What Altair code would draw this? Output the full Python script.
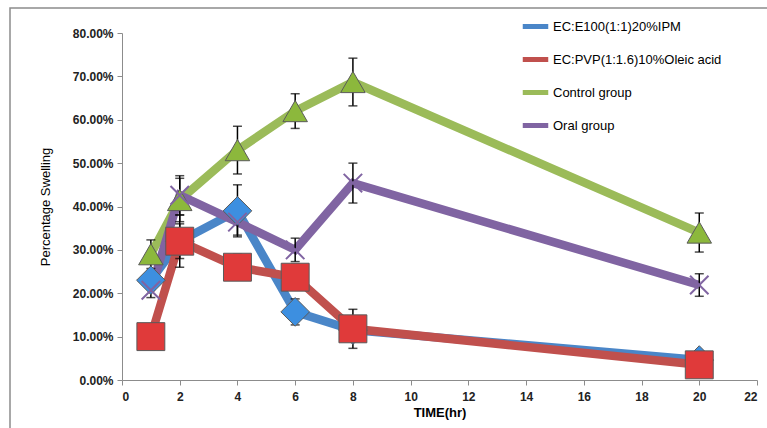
import altair as alt
import pandas as pd

times = [1, 2, 4, 6, 8, 20]
series_names = ["EC:E100(1:1)20%IPM", "EC:PVP(1:1.6)10%Oleic acid", "Control group", "Oral group"]
ec_e100 = [0.23, 0.32, 0.39, 0.157, 0.115, 0.046]
ec_e100_err = [0.02, 0.04, 0.06, 0.03, 0.02, 0.02]
ec_pvp = [0.10, 0.32, 0.26, 0.237, 0.118, 0.035]
ec_pvp_err = [0.02, 0.06, 0.03, 0.03, 0.045, 0.02]
control = [0.29, 0.415, 0.53, 0.62, 0.687, 0.34]
control_err = [0.033, 0.05, 0.055, 0.04, 0.055, 0.045]
oral = [0.207, 0.426, 0.364, 0.30, 0.454, 0.219]
oral_err = [0.017, 0.045, 0.03, 0.027, 0.046, 0.026]

line_colors = ["#4a86c8", "#c0504d", "#9bbb59", "#8064a2"]
fill_colors = ["#3d8fe0", "#e03a3a", "#8cb83c", "#8064a2"]
shapes = ["diamond", "square", "triangle-up", "M-1,-1L1,1M1,-1L-1,1"]

rows = []
for name, vals, errs in zip(series_names, [ec_e100, ec_pvp, control, oral],
                            [ec_e100_err, ec_pvp_err, control_err, oral_err]):
    for t, v, e in zip(times, vals, errs):
        rows.append({"series": name, "time": t, "value": v, "lo": v - e, "hi": v + e})
df = pd.DataFrame(rows)

xscale = alt.Scale(domain=[0, 22], nice=False)
yscale = alt.Scale(domain=[0, 0.8], nice=False)
color_scale = alt.Scale(domain=series_names, range=line_colors)

xenc = alt.X("time:Q", scale=xscale,
             axis=alt.Axis(title="TIME(hr)", values=list(range(0, 23, 2)), grid=False,
                           format="d"))
yenc = alt.Y("value:Q", scale=yscale,
             axis=alt.Axis(title="Percentage Swelling", values=[i / 10 for i in range(9)],
                           format=".2%", grid=False))

base = alt.Chart(df)

layers = []
# frame
frame = alt.Chart(pd.DataFrame({"a": [0]})).mark_rect(
    fill=None, stroke="#8c8c8c", strokeWidth=1.5, clip=False
).encode(x=alt.value(-112), x2=alt.value(700), y=alt.value(-25), y2=alt.value(420))
layers.append(frame)

for i, name in enumerate(series_names):
    sub = base.transform_filter(alt.datum.series == name)
    line = sub.mark_line(strokeWidth=8.5).encode(
        x=xenc, y=yenc,
        color=alt.Color("series:N", scale=color_scale,
                        legend=alt.Legend(title=None, orient="none", legendX=398, legendY=-22,
                                          symbolType="stroke", symbolSize=650,
                                          symbolStrokeWidth=5, labelFont="Liberation Sans",
                                          labelFontSize=13, labelColor="#000",
                                          labelOffset=2,
                                          rowPadding=7, labelLimit=300))
    )
    layers.append(line)

for i, name in enumerate(series_names):
    sub = base.transform_filter(alt.datum.series == name)
    rule = sub.mark_rule(color="black", strokeWidth=1.5).encode(
        x="time:Q", y="lo:Q", y2="hi:Q")
    cap_hi = sub.mark_tick(color="black", thickness=1.5, size=9, orient="horizontal").encode(
        x="time:Q", y="hi:Q")
    cap_lo = sub.mark_tick(color="black", thickness=1.5, size=9, orient="horizontal").encode(
        x="time:Q", y="lo:Q")
    layers += [rule, cap_hi, cap_lo]

for i, name in enumerate(series_names):
    sub = base.transform_filter(alt.datum.series == name)
    if i == 3:
        pts = sub.mark_point(shape=shapes[i], size=340, filled=False,
                             stroke=fill_colors[i], strokeWidth=2, opacity=1).encode(
            x="time:Q", y="value:Q")
    else:
        size = {0: 820, 1: 780, 2: 600}[i]
        pts = sub.mark_point(shape=shapes[i], size=size, filled=True, fill=fill_colors[i],
                             stroke="#5a5a5a", strokeWidth=1, opacity=1).encode(
            x="time:Q", y="value:Q")
    layers.append(pts)

chart = alt.layer(*layers).resolve_scale().properties(
    width=635, height=347,
    padding={"left": 122, "top": 33, "right": 10, "bottom": 48},
    autosize=alt.AutoSizeParams(type="none"),
    background="white",
).configure_view(stroke=None).configure_axis(
    domainColor="#8c8c8c", tickColor="#8c8c8c", tickSize=5,
    labelFont="Liberation Sans", labelFontSize=12, labelFontWeight="bold", labelColor="#222",
    titleFont="Liberation Sans", titleColor="#000", titleFontSize=13,
).configure_axisY(titleFontWeight="normal", titlePadding=20, labelPadding=4
).configure_axisX(titleFontWeight="bold", titlePadding=4, labelPadding=6)

chart.save("out.html", embed_options={"renderer": "svg", "actions": False})
